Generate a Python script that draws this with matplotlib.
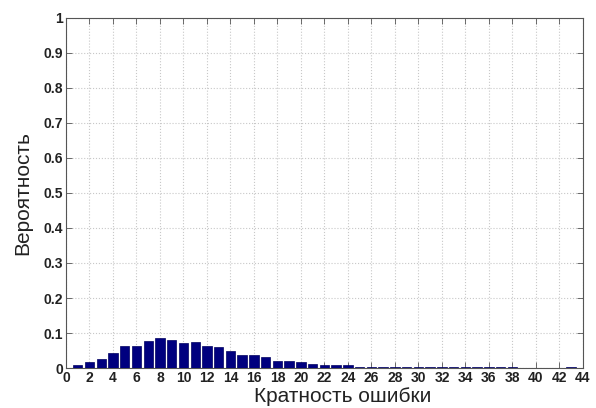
import matplotlib
matplotlib.use("Agg")
import matplotlib.pyplot as plt
import numpy as np

multiplicity = list(range(1, 44))
probability = [0.008, 0.016, 0.026, 0.044, 0.062, 0.062, 0.076, 0.087, 0.080, 0.071,
               0.073, 0.063, 0.059, 0.048, 0.038, 0.037, 0.031, 0.020, 0.019, 0.017,
               0.012, 0.010, 0.009, 0.008, 0.004, 0.004, 0.003, 0.003, 0.002, 0.002,
               0.002, 0.002, 0.002, 0.002, 0.002, 0.002, 0.002, 0.002, 0.0, 0.0,
               0.0, 0.0, 0.002]
xticks = list(range(0, 45, 2))
yticks = [0, 0.1, 0.2, 0.3, 0.4, 0.5, 0.6, 0.7, 0.8, 0.9, 1]
yticklabels = ["0", "0.1", "0.2", "0.3", "0.4", "0.5", "0.6", "0.7", "0.8", "0.9", "1"]

plt.rcParams["font.family"] = ["Liberation Sans", "DejaVu Sans"]

fig = plt.figure(figsize=(5.96, 4.08), dpi=100)
ax = fig.add_axes([0.1107, 0.098, 0.8673, 0.858])
ax.bar(multiplicity, probability, width=0.8, color="#00007f", edgecolor="#000060", linewidth=0.5, zorder=3)
ax.set_xlim(0, 44)
ax.set_ylim(0, 1)
ax.set_xticks(xticks)
ax.set_yticks(yticks)
ax.set_yticklabels(yticklabels)
ax.grid(True, linestyle=":", color="#c8c8c8", linewidth=0.8, zorder=0)
ax.tick_params(direction="in", top=True, right=True, length=4, width=0.6, color="#555555",
               labelsize=10, labelcolor="#222222", pad=2)
for lab in ax.get_xticklabels() + ax.get_yticklabels():
    lab.set_fontweight("bold")
for s in ax.spines.values():
    s.set_color("#555555")
    s.set_linewidth(0.8)
ax.set_xlabel("Кратность ошибки", fontsize=15, color="#222222", labelpad=3)
ax.xaxis.set_label_coords(0.536, -0.055)
ax.set_ylabel("Вероятность", fontsize=15, color="#222222", labelpad=8)
fig.savefig("out.png", dpi=100)
